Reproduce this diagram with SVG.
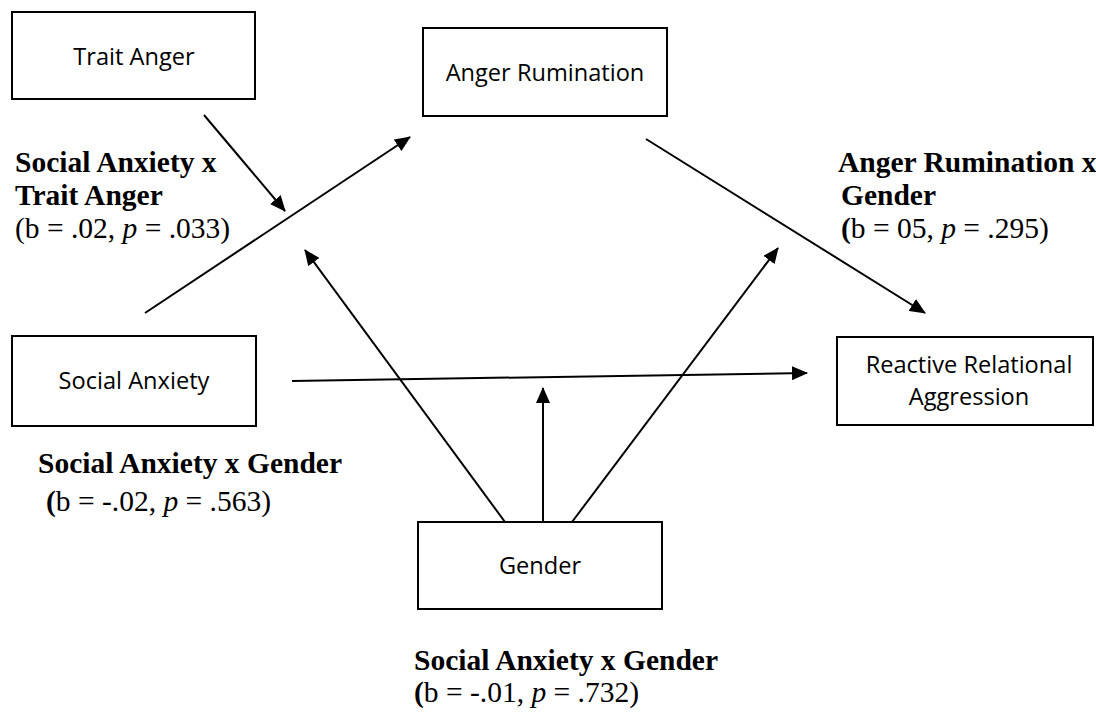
<svg xmlns="http://www.w3.org/2000/svg" width="1096" height="712" viewBox="0 0 1096 712">
<style>
.box{fill:#fff;stroke:#000;stroke-width:2}
.nt{font-family:"Open Sans","Liberation Sans",sans-serif;font-size:23.6px;fill:#000;text-anchor:middle}
.lb{font-family:"Liberation Serif","Times New Roman",serif;font-size:29.5px;fill:#000}
.b{font-weight:bold}
.conn{stroke:#000;stroke-width:2;fill:none;marker-end:url(#ah)}
</style>
<defs>
<marker id="ah" markerUnits="userSpaceOnUse" markerWidth="16" markerHeight="14" refX="15" refY="7" orient="auto">
<path d="M0,0 L16,7 L0,14 Z" fill="#000"/>
</marker>
</defs>
<rect width="1096" height="712" fill="#fff"/>
<g id="connectors">
<line class="conn" x1="204" y1="115" x2="285" y2="211"/>
<line class="conn" x1="145" y1="313" x2="410" y2="137"/>
<line class="conn" x1="505" y1="522" x2="305" y2="250"/>
<line class="conn" x1="543" y1="522" x2="543" y2="388"/>
<line class="conn" x1="572" y1="522" x2="778" y2="248"/>
<line class="conn" x1="646" y1="139" x2="925" y2="313"/>
<line class="conn" x1="292" y1="381" x2="807" y2="373"/>
</g>
<g id="trait-anger">
<rect class="box" x="12" y="12" width="243" height="87"/>
<text class="nt" x="134" y="65">Trait Anger</text>
</g>
<g id="anger-rumination">
<rect class="box" x="423" y="28" width="244" height="88"/>
<text class="nt" x="545" y="81">Anger Rumination</text>
</g>
<g id="social-anxiety">
<rect class="box" x="12" y="336" width="244" height="90"/>
<text class="nt" x="134" y="389">Social Anxiety</text>
</g>
<g id="reactive-relational-aggression">
<rect class="box" x="837" y="337" width="256" height="88"/>
<text class="nt" x="969" y="373">Reactive Relational</text>
<text class="nt" x="969" y="405">Aggression</text>
</g>
<g id="gender">
<rect class="box" x="418" y="522" width="244" height="87"/>
<text class="nt" x="540" y="574">Gender</text>
</g>
<g id="labels">
<text class="lb b" x="15" y="172">Social Anxiety x</text>
<text class="lb b" x="15" y="205">Trait Anger</text>
<text class="lb" x="15" y="238">(b = .02, <tspan font-style="italic">p</tspan> = .033)</text>
<text class="lb b" x="838" y="172" font-size="28.3">Anger Rumination x</text>
<text class="lb b" x="841" y="205">Gender</text>
<text class="lb" x="841" y="238"><tspan font-weight="bold">(</tspan>b = 05, <tspan font-style="italic">p</tspan> = .295)</text>
<text class="lb b" x="38" y="473">Social Anxiety x Gender</text>
<text class="lb" x="46" y="511"><tspan font-weight="bold">(</tspan>b = -.02, <tspan font-style="italic">p</tspan> = .563)</text>
<text class="lb b" x="414" y="670">Social Anxiety x Gender</text>
<text class="lb" x="414" y="702"><tspan font-weight="bold">(</tspan>b = -.01, <tspan font-style="italic">p</tspan> = .732)</text>
</g>
</svg>
